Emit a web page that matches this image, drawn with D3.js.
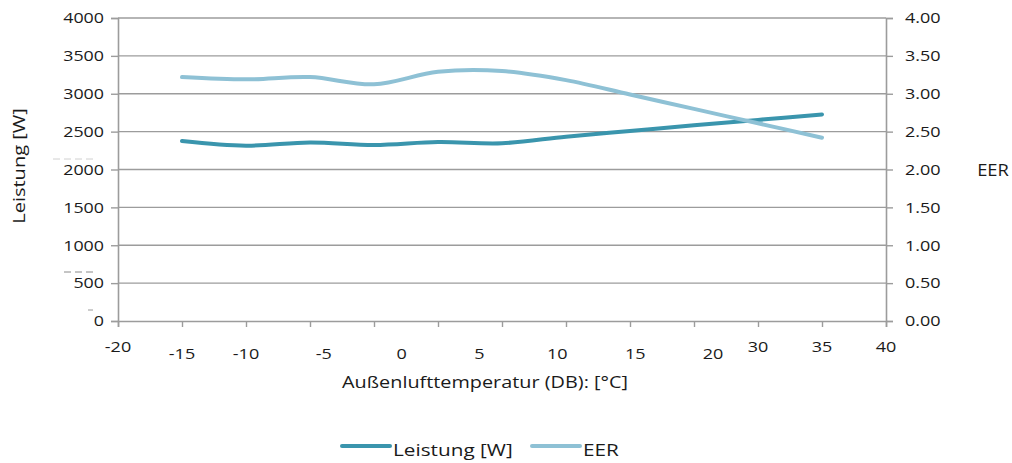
<!DOCTYPE html>
<html>
<head>
<meta charset="utf-8">
<script src="https://cdn.jsdelivr.net/npm/d3@7"></script>
<style>
  html, body { margin: 0; padding: 0; background: #fff; }
  svg { display: block; font-family: "Open Sans", sans-serif; }
</style>
</head>
<body>
<svg id="chart" width="1012" height="463"></svg>
<script>
// Outdoor temperature (°C) at which the unit was measured
const temperatures = [-15, -10, -5, 0, 5, 10, 15, 20, 25, 30, 35];
// Cooling capacity [W]
const leistung = [2376, 2314, 2357, 2323, 2362, 2347, 2433, 2508, 2583, 2655, 2727];
// Energy efficiency ratio
const eer = [3.22, 3.19, 3.22, 3.125, 3.29, 3.30, 3.18, 2.99, 2.80, 2.61, 2.42];

// Axis ticks
const xTicks = [-20, -15, -10, -5, 0, 5, 10, 15, 20, 25, 30, 35, 40];
const xTickLabelsUpper = [-20, 30, 35, 40];
const xTickLabelsLower = [-15, -10, -5, 0, 5, 10, 15, 20];
const leftTicks = [0, 500, 1000, 1500, 2000, 2500, 3000, 3500, 4000];
const rightTicks = [0, 0.5, 1, 1.5, 2, 2.5, 3, 3.5, 4];

const seriesNames = ["Leistung [W]", "EER"];
const colors = ["#3a95ad", "#8ec1d5"];

const svg = d3.select("#chart");
const plot = { left: 118, right: 886, top: 18, bottom: 321 };

const x = d3.scaleLinear().domain([-20, 40]).range([plot.left, plot.right]);
const yL = d3.scaleLinear().domain([0, 4000]).range([plot.bottom, plot.top]);
const yR = d3.scaleLinear().domain([0, 4]).range([plot.bottom, plot.top]);
// lower label row is spread a little wider than the tick grid
const xLower = d3.scaleLinear().domain([-10, 20]).range([x(-10), 713]);

const gridColor = "#9c9c9c";
const textColor = "#1a1a1a";

// text helper: wide-set lettering, stretched horizontally by sx
function label(parent, px, py, str, size, sx, anchor, rotate) {
  return parent.append("text")
    .attr("transform", `translate(${px},${py})${rotate ? " rotate(-90)" : ""} scale(${sx},1)`)
    .attr("text-anchor", anchor)
    .attr("dy", "0.35em")
    .attr("font-size", size)
    .attr("fill", textColor)
    .text(str);
}

// horizontal gridlines
svg.append("g")
  .selectAll("line")
  .data(leftTicks.filter(d => d > 0))
  .join("line")
  .attr("x1", plot.left).attr("x2", plot.right)
  .attr("y1", d => yL(d)).attr("y2", d => yL(d))
  .attr("stroke", gridColor).attr("stroke-width", 1.4);

// bottom axis
const gx = svg.append("g").attr("transform", `translate(0,${plot.bottom})`)
  .call(d3.axisBottom(x).tickValues(xTicks).tickSize(6).tickFormat(""));
gx.select(".domain").attr("stroke", gridColor).attr("stroke-width", 1.6);
gx.selectAll(".tick line").attr("stroke", gridColor).attr("stroke-width", 1.4);

const gxl = svg.append("g");
xTickLabelsUpper.forEach(d => label(gxl, x(d), 347, d, 15, 1.2, "middle"));
xTickLabelsLower.forEach(d => label(gxl, d < -5 ? x(d) : xLower(d), 354, d, 15, 1.2, "middle"));

// left axis
const gl = svg.append("g").attr("transform", `translate(${plot.left},0)`)
  .call(d3.axisLeft(yL).tickValues(leftTicks).tickSize(7).tickFormat(""));
gl.select(".domain").attr("stroke", gridColor).attr("stroke-width", 1.6);
gl.selectAll(".tick line").attr("stroke", gridColor).attr("stroke-width", 1.4);
const gll = svg.append("g");
leftTicks.forEach(d => label(gll, 104, yL(d), d3.format("d")(d), 15, 1.19, "end"));

// right axis
const gr = svg.append("g").attr("transform", `translate(${plot.right},0)`)
  .call(d3.axisRight(yR).tickValues(rightTicks).tickSize(7).tickFormat(""));
gr.select(".domain").attr("stroke", gridColor).attr("stroke-width", 1.6);
gr.selectAll(".tick line").attr("stroke", gridColor).attr("stroke-width", 1.4);
const grl = svg.append("g");
rightTicks.forEach(d => label(grl, 905, yR(d), d3.format(".2f")(d), 15, 1.2, "start"));

// faint leftovers beside the left axis labels
const stubs = [[53, 97, 159, "#d0d0d0"], [64, 97, 272, "#8a8a8a"], [88, 93, 310, "#9a9a9a"]];
svg.append("g").selectAll("line").data(stubs).join("line")
  .attr("x1", d => d[0]).attr("x2", d => d[1])
  .attr("y1", d => d[2]).attr("y2", d => d[2])
  .attr("stroke", d => d[3]).attr("stroke-width", 1)
  .attr("stroke-dasharray", "7,4");

// axis titles
label(svg, 19, 166, "Leistung [W]", 16, 1.25, "middle", true);
label(svg, 993, 170, "EER", 17, 1.08, "middle");
label(svg, 485, 382, "Außenlufttemperatur (DB): [°C]", 16, 1.24, "middle");

// series lines
const lineL = d3.line().x((d, i) => x(temperatures[i])).y(d => yL(d)).curve(d3.curveCardinal.tension(0));
const lineR = d3.line().x((d, i) => x(temperatures[i])).y(d => yR(d)).curve(d3.curveCardinal.tension(0));

svg.append("path").datum(leistung)
  .attr("d", lineL).attr("fill", "none")
  .attr("stroke", colors[0]).attr("stroke-width", 4).attr("stroke-linecap", "round");
svg.append("path").datum(eer)
  .attr("d", lineR).attr("fill", "none")
  .attr("stroke", colors[1]).attr("stroke-width", 4).attr("stroke-linecap", "round");

// legend
const legendItems = [
  { name: seriesNames[0], color: colors[0], x0: 342 },
  { name: seriesNames[1], color: colors[1], x0: 532 }
];
legendItems.forEach(item => {
  const g = svg.append("g").attr("transform", `translate(${item.x0},446)`);
  g.append("line").attr("x1", 0).attr("x2", 48).attr("y1", 0).attr("y2", 0)
    .attr("stroke", item.color).attr("stroke-width", 4).attr("stroke-linecap", "round");
  label(g, 51, 4, item.name, 17, 1.22, "start");
});
</script>
</body>
</html>
